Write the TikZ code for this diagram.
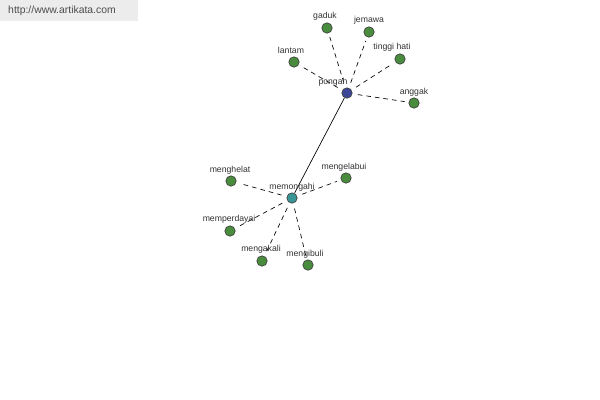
\documentclass[tikz,border=0pt]{standalone}
\usepackage{fontspec}
\setmainfont{Liberation Sans}
\usetikzlibrary{positioning}
\definecolor{hubblue}{RGB}{60,72,150}
\definecolor{hubteal}{RGB}{58,150,150}
\definecolor{leafgreen}{RGB}{74,140,62}
\definecolor{labelgray}{RGB}{50,50,50}
\definecolor{bannergray}{RGB}{236,236,236}

\begin{document}
\begin{tikzpicture}[
  x=0.75pt, y=-0.75pt,
  dot/.style={circle, draw=black!75, line width=0.5pt, inner sep=0pt, minimum size=7.8pt},
  leaf/.style={dot, fill=leafgreen},
  word/.style={font=\fontsize{6.5}{7}\selectfont, text=labelgray, inner sep=0pt},
  syn/.style={dash pattern=on 3.5pt off 3pt, line width=0.5pt, shorten <=4pt, shorten >=3pt},
  link/.style={line width=0.5pt}
]
\useasboundingbox (0,0) rectangle (600,400);
\fill[bannergray] (0,0) rectangle (138,21);
\node[font=\fontsize{7.8}{9}\selectfont, text=black!70, inner sep=0pt] (site) at (62,11) {http://www.artikata.com};

% hubs
\node[dot, fill=hubblue] (pongah) at (347,93) {};
\node[dot, fill=hubteal] (memongahi) at (292,198) {};

% leaves
\node[leaf] (gaduk) at (327,28) {};
\node[leaf] (jemawa) at (369,32) {};
\node[leaf] (tinggi) at (400,59) {};
\node[leaf] (lantam) at (294,62) {};
\node[leaf] (anggak) at (414,103) {};
\node[leaf] (menghelat) at (231,181) {};
\node[leaf] (mengelabui) at (346,178) {};
\node[leaf] (memperdayai) at (230,231) {};
\node[leaf] (mengakali) at (262,261) {};
\node[leaf] (mengibuli) at (308,265) {};

% connectors
\draw[link] (pongah) -- (memongahi);
\foreach \n in {gaduk,jemawa,tinggi,lantam,anggak}
  \draw[syn] (pongah) -- (\n);
\foreach \n in {menghelat,mengelabui,memperdayai,mengakali,mengibuli}
  \draw[syn] (memongahi) -- (\n);

% labels
\node[word] (l-pongah) at (333,82) {pongah};
\node[word] (l-memongahi) at (292,187) {memongahi};
\node[word] (l-gaduk) at (325,16) {gaduk};
\node[word] (l-jemawa) at (369,20) {jemawa};
\node[word] (l-tinggi) at (392,47) {tinggi hati};
\node[word] (l-lantam) at (291,50) {lantam};
\node[word] (l-anggak) at (414,92) {anggak};
\node[word] (l-menghelat) at (230,170) {menghelat};
\node[word] (l-mengelabui) at (344,167) {mengelabui};
\node[word] (l-memperdayai) at (229,219) {memperdayai};
\node[word] (l-mengakali) at (261,249) {mengakali};
\node[word] (l-mengibuli) at (305,254) {mengibuli};
\end{tikzpicture}
\end{document}
